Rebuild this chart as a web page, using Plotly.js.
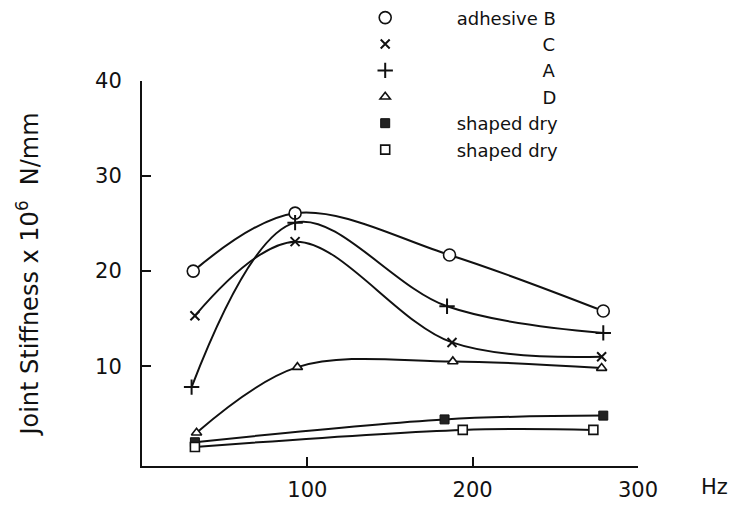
<!DOCTYPE html>
<html><head><meta charset="utf-8">
<script src="https://cdn.plot.ly/plotly-3.0.1.min.js"></script>
<style>body{margin:0;background:#fff}</style>
</head><body><div id="chart" style="width:731px;height:507px"></div>
<script>
// ---- data ----
const seriesNames = ["adhesive B", "C", "A", "D", "shaped dry", "shaped dry"];
const xB = [31, 92.6, 186, 279];
const yB = [20.0, 26.1, 21.7, 15.8];
const xC = [32, 92.6, 187.5, 278];
const yC = [15.3, 23.1, 12.5, 11.0];
const xA = [30, 92.6, 184.5, 279];
const yA = [7.8, 25.1, 16.3, 13.5];
const xD = [33, 94, 188, 278];
const yD = [3.0, 9.9, 10.5, 9.8];
const xS1 = [32, 183, 279];
const yS1 = [2.0, 4.4, 4.8];
const xS2 = [32, 194, 273];
const yS2 = [1.5, 3.3, 3.3];
const xTickVals = [100, 200, 300];
const yTickVals = [10, 20, 30, 40];

// ---- styles ----
const FONT = '"DejaVu Sans", Verdana, sans-serif';
const INK = '#111';
const symbolStyles = [
  {symbol: 'circle', size: 12, color: '#fff', line: {width: 1.6, color: INK}},
  {symbol: 'x-thin-open', size: 9, color: INK, line: {width: 2, color: INK}},
  {symbol: 'cross-thin-open', size: 11, color: INK, line: {width: 2, color: INK}},
  {symbol: 'triangle-up', size: 9, color: '#fff', line: {width: 1.6, color: INK}},
  {symbol: 'square', size: 9, color: '#222', line: {width: 1, color: INK}},
  {symbol: 'square', size: 9, color: '#fff', line: {width: 1.6, color: INK}}
];
const xs = [xB, xC, xA, xD, xS1, xS2];
const ys = [yB, yC, yA, yD, yS1, yS2];

// right-align legend labels with non-breaking spaces
const LEG_FONT = 18;
const cv = document.createElement('canvas').getContext('2d');
cv.font = LEG_FONT + 'px "DejaVu Sans"';
function padLabel(s, target) {
  const nb = '\u00A0';
  const n = Math.max(0, Math.round((target - cv.measureText(s).width) / cv.measureText(nb).width));
  return nb.repeat(n) + s;
}
const LEG_W = 150;

const traces = [];
for (let i = 0; i < xs.length; i++) {
  traces.push({x: xs[i], y: ys[i], mode: 'lines', type: 'scatter', showlegend: false,
    hoverinfo: 'skip', line: {color: INK, width: 2, shape: 'spline', smoothing: 1}});
}
for (let i = 0; i < xs.length; i++) {
  traces.push({x: xs[i], y: ys[i], mode: 'markers', type: 'scatter',
    name: padLabel(seriesNames[i], LEG_W), marker: symbolStyles[i]});
}

const layout = {
  width: 731, height: 507,
  margin: {l: 142, r: 93, t: 81, b: 41, autoexpand: false},
  paper_bgcolor: '#fff', plot_bgcolor: '#fff',
  font: {family: FONT, color: INK, size: 17},
  showlegend: true,
  legend: {x: 0.45, xanchor: 'left', y: 1.212, yanchor: 'top', bgcolor: 'rgba(0,0,0,0)',
    font: {family: FONT, size: LEG_FONT, color: INK}, traceorder: 'normal', itemclick: false},
  xaxis: {range: [0, 300], tickvals: xTickVals, ticktext: xTickVals.map(String),
    ticks: 'inside', ticklen: 9, tickwidth: 2, tickcolor: INK,
    showline: true, linewidth: 2, linecolor: INK, showgrid: false, zeroline: false,
    ticklabelstandoff: 4, tickfont: {family: FONT, size: 21, color: INK}},
  yaxis: {range: [-0.5, 40], tickvals: yTickVals, ticktext: yTickVals.map(String),
    ticks: 'inside', ticklen: 9, tickwidth: 2, tickcolor: INK,
    showline: true, linewidth: 2, linecolor: INK, showgrid: false, zeroline: false,
    ticklabelstandoff: 14, tickfont: {family: FONT, size: 21, color: INK},
    title: {text: 'Joint Stiffness x 10<sup>6</sup>\u00A0 N/mm', standoff: 50,
      font: {family: FONT, size: 24, color: INK}}, automargin: false},
  annotations: [{text: 'Hz', xref: 'paper', yref: 'paper', x: 1.155, y: -0.055,
    xanchor: 'center', yanchor: 'middle', showarrow: false,
    font: {family: FONT, size: 21, color: INK}}]
};
Plotly.newPlot('chart', traces, layout, {staticPlot: true, displayModeBar: false});
</script></body></html>
